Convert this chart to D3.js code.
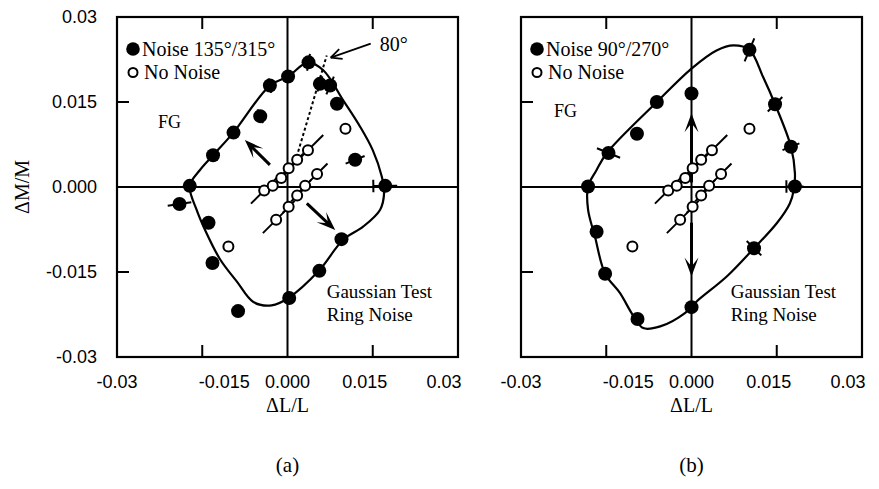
<!DOCTYPE html>
<html><head><meta charset="utf-8">
<script src="https://cdn.jsdelivr.net/npm/d3@7"></script>
<style>body{margin:0;background:#fff}</style>
</head><body><svg id="chart" width="879" height="489"></svg>
<script>
// ---------------- DATA ----------------
const tickValues = [-0.03, -0.015, 0, 0.015, 0.03];
const tickLabels = ["-0.03", "-0.015", "0.000", "0.015", "0.03"];
const panelLetters = ["(a)", "(b)"];
const legendNoise = ["Noise 135°/315°", "Noise 90°/270°"];
const legendNoNoise = "No Noise";
const xTitle = "ΔL/L", yTitle = "ΔM/M";

// filled points panel (a): [ΔL/L, ΔM/M, radial error, cap]
const noiseA = [
  [0.0037, 0.0220, 0.0015, 0], [0.0001, 0.0195, 0, 0], [-0.0031, 0.0179, 0.0013, 0],
  [-0.0048, 0.0125, 0.0013, 0], [-0.0095, 0.0096, 0.0006, 0], [-0.0131, 0.0056, 0.0010, 0],
  [0.0057, 0.0182, 0.0014, 0], [0.0075, 0.0179, 0.0017, 0], [0.0087, 0.0147, 0, 0],
  [0.0119, 0.0048, 0.0018, 0], [-0.0172, 0.0002, 0, 0], [-0.0190, -0.0030, 0.0021, 0],
  [-0.0139, -0.0063, 0, 0], [-0.0132, -0.0134, 0.0008, 0], [-0.0087, -0.0219, 0, 0],
  [0.0003, -0.0196, 0, 0], [0.0056, -0.0148, 0, 0], [0.0095, -0.0092, 0, 0],
  [0.0172, 0.0002, 0.0021, 1]
];
// filled points panel (b)
const noiseB = [
  [0.0102, 0.0242, 0.0022, 0], [0.0000, 0.0165, 0, 0], [-0.0061, 0.0150, 0, 0],
  [-0.0096, 0.0094, 0, 0], [-0.0146, 0.0060, 0.0022, 0], [0.0147, 0.0146, 0.0018, 0],
  [0.0175, 0.0071, 0.0016, 0], [-0.0182, 0.0001, 0, 0], [-0.0167, -0.0079, 0, 0],
  [-0.0152, -0.0153, 0, 0], [-0.0095, -0.0233, 0, 0], [0.0000, -0.0212, 0, 0],
  [0.0110, -0.0108, 0.0018, 0], [0.0182, 0.0001, 0.0015, 1]
];
// open points (no noise), error along the 45° direction
const noNoise = [
  [-0.0041, -0.0006, 0.0033], [-0.0026, 0.0002, 0.0015], [-0.0011, 0.0016, 0.0015],
  [0.0002, 0.0033, 0.0015], [0.0017, 0.0048, 0.0015], [0.0036, 0.0065, 0.0038],
  [-0.0020, -0.0058, 0.0033], [0.0002, -0.0035, 0.0015], [0.0017, -0.0015, 0.0015],
  [0.0031, 0.0002, 0.0015], [0.0052, 0.0023, 0.0026],
  [0.0102, 0.0103, 0.0010], [-0.0104, -0.0105, 0]
];
// fitted contours
const contourA = [
  [0.0001, 0.0195], [0.0036, 0.0220], [0.0063, 0.0206], [0.0098, 0.0153], [0.0128, 0.0106],
  [0.0150, 0.0065], [0.0166, 0.0018], [0.0170, -0.0010], [0.0163, -0.0040], [0.0133, -0.0070],
  [0.0098, -0.0093], [0.0055, -0.0148], [0.0003, -0.0195], [-0.0028, -0.0209], [-0.0060, -0.0203],
  [-0.0089, -0.0167], [-0.0119, -0.0127], [-0.0145, -0.0076], [-0.0160, -0.0040],
  [-0.0172, 0.0002], [-0.0154, 0.0030], [-0.0131, 0.0056], [-0.0096, 0.0095], [-0.0031, 0.0179]
];
const contourB = [
  [-0.0149, 0.0060], [-0.0061, 0.0150], [0.0000, 0.0209], [0.0044, 0.0241], [0.0074, 0.0250],
  [0.0102, 0.0242], [0.0126, 0.0194], [0.0147, 0.0146], [0.0175, 0.0071], [0.0182, 0.0024],
  [0.0180, -0.0005], [0.0173, -0.0029], [0.0150, -0.0064], [0.0110, -0.0108], [0.0062, -0.0158],
  [0.0009, -0.0202], [-0.0011, -0.0222], [-0.0055, -0.0246], [-0.0085, -0.0249], [-0.0102, -0.0228],
  [-0.0126, -0.0187], [-0.0152, -0.0153], [-0.0170, -0.0087], [-0.0182, -0.0040],
  [-0.0182, 0.0001], [-0.0167, 0.0030]
];
// noise-direction arrows [tail, tip]
const arrowsA = [[[-0.0031, 0.0039], [-0.0075, 0.0083]], [[0.0034, -0.0029], [0.0084, -0.0076]]];
const arrowsB = [[[0.0, 0.0008], [0.0, 0.0130]], [[0.0, -0.0063], [0.0, -0.0158]]];
// 80° dotted line
const dottedA = [[0.0016, 0.0053], [0.0069, 0.0232]];
const angleLabel = "80°";

// ---------------- DRAW ----------------
const svg = d3.select("#chart");
const serif = "'Liberation Serif', 'Times New Roman', serif";
const sans = "'Liberation Sans', Arial, sans-serif";

const panels = [
  {x0: 117, x1: 458, noise: noiseA, contour: contourA, arrows: arrowsA, legend: legendNoise[0], letter: panelLetters[0], yLabels: true},
  {x0: 521, x1: 862, noise: noiseB, contour: contourB, arrows: arrowsB, legend: legendNoise[1], letter: panelLetters[1], yLabels: false}
];
const yTop = 17, yBot = 357;
const y = d3.scaleLinear().domain([-0.03, 0.03]).range([yBot, yTop]);

function arrowHead(g, x1, y1, x2, y2, len, half, notch) {
  const a = Math.atan2(y2 - y1, x2 - x1);
  const c = Math.cos(a), s = Math.sin(a);
  const bx = x2 - len * c, by = y2 - len * s;
  const p = [
    [x2, y2],
    [bx - half * s, by + half * c],
    [x2 - (len - notch) * c, y2 - (len - notch) * s],
    [bx + half * s, by - half * c]
  ];
  g.append("path").attr("d", "M" + p.map(d => d.join(",")).join("L") + "Z").attr("fill", "#000");
}

panels.forEach((P, pi) => {
  const x = d3.scaleLinear().domain([-0.03, 0.03]).range([P.x0, P.x1]);
  const g = svg.append("g");

  // frame
  g.append("rect").attr("x", P.x0).attr("y", yTop).attr("width", P.x1 - P.x0).attr("height", yBot - yTop)
    .attr("fill", "none").attr("stroke", "#000").attr("stroke-width", 2.2);
  // zero lines
  g.append("line").attr("x1", x(0)).attr("x2", x(0)).attr("y1", yTop).attr("y2", yBot).attr("stroke", "#000").attr("stroke-width", 2);
  g.append("line").attr("x1", P.x0).attr("x2", P.x1).attr("y1", y(0)).attr("y2", y(0)).attr("stroke", "#000").attr("stroke-width", 2);
  // inward ticks
  const inner = tickValues.filter(v => Math.abs(v) > 0 && Math.abs(v) < 0.03);
  inner.forEach(v => {
    g.append("line").attr("x1", x(v)).attr("x2", x(v)).attr("y1", yTop).attr("y2", yTop + 12).attr("stroke", "#000").attr("stroke-width", 2);
    g.append("line").attr("x1", x(v)).attr("x2", x(v)).attr("y1", yBot).attr("y2", yBot - 12).attr("stroke", "#000").attr("stroke-width", 2);
    g.append("line").attr("x1", P.x0).attr("x2", P.x0 + 12).attr("y1", y(v)).attr("y2", y(v)).attr("stroke", "#000").attr("stroke-width", 2);
  });

  // x tick labels (slight hand-placement nudges as in the original figure)
  const nudge = [0, 22, 0, -8, -14];
  tickValues.forEach((v, i) => {
    g.append("text").attr("x", x(v) + nudge[i]).attr("y", 388).attr("text-anchor", "middle")
      .attr("font-family", sans).attr("font-size", 18).text(tickLabels[i]);
  });
  if (P.yLabels) {
    tickValues.forEach((v, i) => {
      g.append("text").attr("x", 97).attr("y", y(v) + 6).attr("text-anchor", "end")
        .attr("font-family", sans).attr("font-size", 18).text(tickLabels[i]);
    });
    g.append("text").attr("transform", `translate(29,${y(0)}) rotate(-90)`).attr("text-anchor", "middle")
      .attr("font-family", serif).attr("font-size", 20).text(yTitle);
  }
  g.append("text").attr("x", x(0)).attr("y", 412).attr("text-anchor", "middle")
    .attr("font-family", serif).attr("font-size", 20).text(xTitle);
  g.append("text").attr("x", x(0)).attr("y", 472).attr("text-anchor", "middle")
    .attr("font-family", serif).attr("font-size", 21).text(P.letter);

  // contour
  const line = d3.line().x(d => x(d[0])).y(d => y(d[1])).curve(d3.curveCatmullRomClosed.alpha(0.5));
  g.append("path").attr("d", line(P.contour)).attr("fill", "none").attr("stroke", "#000").attr("stroke-width", 2.2);

  // dotted 80° line + pointer (panel a)
  if (pi === 0) {
    g.append("line").attr("x1", x(dottedA[0][0])).attr("y1", y(dottedA[0][1]))
      .attr("x2", x(dottedA[1][0])).attr("y2", y(dottedA[1][1]))
      .attr("stroke", "#000").attr("stroke-width", 2).attr("stroke-dasharray", "3,2.5");
    const tip = [x(dottedA[1][0]) + 4, y(dottedA[1][1]) + 2];
    const tail = [tip[0] + 40, tip[1] - 14];
    g.append("line").attr("x1", tail[0]).attr("y1", tail[1]).attr("x2", tip[0]).attr("y2", tip[1]).attr("stroke", "#000").attr("stroke-width", 1.8);
    const a = Math.atan2(tip[1] - tail[1], tip[0] - tail[0]);
    [0.45, -0.45].forEach(da => {
      g.append("line").attr("x1", tip[0]).attr("y1", tip[1])
        .attr("x2", tip[0] - 12 * Math.cos(a + da)).attr("y2", tip[1] - 12 * Math.sin(a + da))
        .attr("stroke", "#000").attr("stroke-width", 1.8);
    });
    g.append("text").attr("x", tail[0] + 9).attr("y", tail[1] + 7).attr("font-family", serif).attr("font-size", 20).text(angleLabel);
  }

  // noise-direction arrows
  P.arrows.forEach(([t, h]) => {
    const x1 = x(t[0]), y1 = y(t[1]), x2 = x(h[0]), y2 = y(h[1]);
    const a = Math.atan2(y2 - y1, x2 - x1);
    g.append("line").attr("x1", x1).attr("y1", y1).attr("x2", x2 - 8 * Math.cos(a)).attr("y2", y2 - 8 * Math.sin(a))
      .attr("stroke", "#000").attr("stroke-width", 3);
    arrowHead(g, x1, y1, x2, y2, 19, 7, 9);
  });

  // error bars - noise (radial)
  P.noise.forEach(d => {
    if (!d[2]) return;
    const r = Math.hypot(d[0], d[1]);
    const ux = d[0] / r, uy = d[1] / r;
    g.append("line").attr("x1", x(d[0] - d[2] * ux)).attr("y1", y(d[1] - d[2] * uy))
      .attr("x2", x(d[0] + d[2] * ux)).attr("y2", y(d[1] + d[2] * uy))
      .attr("stroke", "#000").attr("stroke-width", 2);
    if (d[3]) {
      const cx = d[0] - d[2] * ux, cy = d[1] - d[2] * uy, c = 0.0011;
      g.append("line").attr("x1", x(cx - c * uy)).attr("y1", y(cy + c * ux))
        .attr("x2", x(cx + c * uy)).attr("y2", y(cy - c * ux)).attr("stroke", "#000").attr("stroke-width", 2);
    }
  });
  // error bars - no noise (45°)
  noNoise.forEach(d => {
    if (!d[2]) return;
    const u = Math.SQRT1_2;
    g.append("line").attr("x1", x(d[0] - d[2] * u)).attr("y1", y(d[1] - d[2] * u))
      .attr("x2", x(d[0] + d[2] * u)).attr("y2", y(d[1] + d[2] * u))
      .attr("stroke", "#000").attr("stroke-width", 2);
  });

  // markers
  g.selectAll(".nn").data(noNoise).enter().append("circle")
    .attr("cx", d => x(d[0])).attr("cy", d => y(d[1])).attr("r", 5)
    .attr("fill", "#fff").attr("stroke", "#000").attr("stroke-width", 2);
  g.selectAll(".nz").data(P.noise).enter().append("circle")
    .attr("cx", d => x(d[0])).attr("cy", d => y(d[1])).attr("r", 7).attr("fill", "#000");

  // legend
  const lx = P.x0 + 16;
  g.append("circle").attr("cx", lx).attr("cy", 49).attr("r", 6.8).attr("fill", "#000");
  g.append("text").attr("x", lx + 9).attr("y", 56).attr("font-family", serif).attr("font-size", 20).text(P.legend);
  g.append("circle").attr("cx", lx).attr("cy", 72.5).attr("r", 4.5).attr("fill", "#fff").attr("stroke", "#000").attr("stroke-width", 2);
  g.append("text").attr("x", lx + 11).attr("y", 79).attr("font-family", serif).attr("font-size", 20).text(legendNoNoise);

  // annotations
  g.append("text").attr("x", P.x0 + (pi === 0 ? 41 : 33)).attr("y", pi === 0 ? 128 : 117)
    .attr("font-family", serif).attr("font-size", 18).text("FG");
  g.append("text").attr("x", x(0.0069)).attr("y", 298).attr("font-family", serif).attr("font-size", 19).text("Gaussian Test");
  g.append("text").attr("x", x(0.0069)).attr("y", 321).attr("font-family", serif).attr("font-size", 19).text("Ring Noise");
});
</script></body></html>
